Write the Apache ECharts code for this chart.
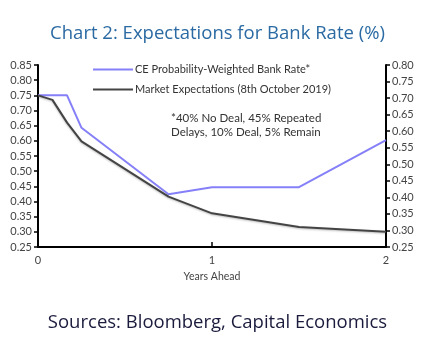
<!DOCTYPE html>
<html><head><meta charset="utf-8">
<script src="https://cdn.jsdelivr.net/npm/echarts@6/dist/echarts.min.js"></script>
<style>html,body{margin:0;padding:0;background:#fff;}#c{width:435px;height:343px;}</style>
</head><body><div id="c"></div>
<script>
var ceYears   = [0, 0.167, 0.25, 0.75, 1.0, 1.5, 2.0];
var ceValues  = [0.75, 0.75, 0.643, 0.424, 0.447, 0.447, 0.602];
var mktYears  = [0, 0.083, 0.167, 0.25, 0.75, 1.0, 1.5, 2.0];
var mktValues = [0.75, 0.735, 0.66, 0.598, 0.416, 0.361, 0.316, 0.30];
var xTicks = [0, 1, 2];
var seriesNames = ['CE Probability-Weighted Bank Rate*', 'Market Expectations (8th October 2019)'];
var noteLines = ['*40% No Deal, 45% Repeated', 'Delays, 10% Deal, 5% Remain'];

function pairs(xs, ys){ return xs.map(function(x,i){return [x, ys[i]];}); }
var FONT = 'Lato, "Liberation Sans", sans-serif';
var chart = echarts.init(document.getElementById('c'), null, {renderer:'canvas'});
chart.setOption({
  animation:false,
  backgroundColor:'#fff',
  title:[{
    text:'Chart 2: Expectations for Bank Rate (%)', left:'center', top:19,
    textStyle:{color:'#2b6aa3', fontSize:18.5, fontWeight:500, fontFamily:'"Open Sans", sans-serif'}
  },{
    text:'Sources: Bloomberg, Capital Economics', left:'center', top:308,
    textStyle:{color:'#1b1b3d', fontSize:18.5, fontWeight:'normal', fontFamily:'"Open Sans", sans-serif'}
  }],
  grid:{left:38, right:49, top:65, bottom:96, containLabel:false},
  legend:{
    orient:'vertical', left:88, top:59, itemWidth:40, itemHeight:2, itemGap:9,
    textStyle:{color:'#333', fontSize:11, fontFamily:FONT, padding:[0,0,0,-3]},
    data:[{name:seriesNames[0], icon:'rect'},{name:seriesNames[1], icon:'rect'}]
  },
  graphic:[{
    type:'text', left:171, top:111,
    style:{text:noteLines.join('\n'), fill:'#333', fontSize:11.5, lineHeight:14, fontFamily:FONT}
  }],
  xAxis:{
    type:'value', min:0, max:2, interval:1,
    name:'Years Ahead', nameLocation:'middle', nameGap:22,
    nameTextStyle:{color:'#444', fontSize:10.5, fontFamily:FONT},
    axisLine:{show:true, onZero:false, lineStyle:{color:'#000', width:2}},
    axisTick:{show:true, inside:true, length:5, lineStyle:{color:'#000', width:1.5}},
    axisLabel:{color:'#444', fontSize:11, fontFamily:FONT, margin:8,
      formatter:function(v){ return xTicks.indexOf(v)>=0 ? String(v) : ''; }},
    splitLine:{show:false}
  },
  yAxis:[{
    type:'value', min:0.25, max:0.85, interval:0.05, position:'left',
    axisLine:{show:true, lineStyle:{color:'#000', width:2}},
    axisTick:{show:true, length:4, lineStyle:{color:'#000', width:1.5}},
    axisLabel:{color:'#444', fontSize:11, fontFamily:FONT, margin:6,
      formatter:function(v){ return v.toFixed(2); }},
    splitLine:{show:false}
  },{
    type:'value', min:0.25, max:0.80, interval:0.05, position:'right',
    axisLine:{show:true, lineStyle:{color:'#000', width:2}},
    axisTick:{show:true, length:4, lineStyle:{color:'#000', width:1.5}},
    axisLabel:{color:'#444', fontSize:11, fontFamily:FONT, margin:6,
      formatter:function(v){ return v.toFixed(2); }},
    splitLine:{show:false}
  }],
  series:[{
    name:seriesNames[0], type:'line', yAxisIndex:0, symbol:'none',
    lineStyle:{color:'#8580f7', width:2}, itemStyle:{color:'#8580f7'},
    data:pairs(ceYears, ceValues)
  },{
    name:seriesNames[1], type:'line', yAxisIndex:0, symbol:'none',
    lineStyle:{color:'#444444', width:2, shadowColor:'rgba(0,0,0,0.25)', shadowBlur:2, shadowOffsetY:1},
    itemStyle:{color:'#444444'},
    data:pairs(mktYears, mktValues)
  }]
});
</script></body></html>
